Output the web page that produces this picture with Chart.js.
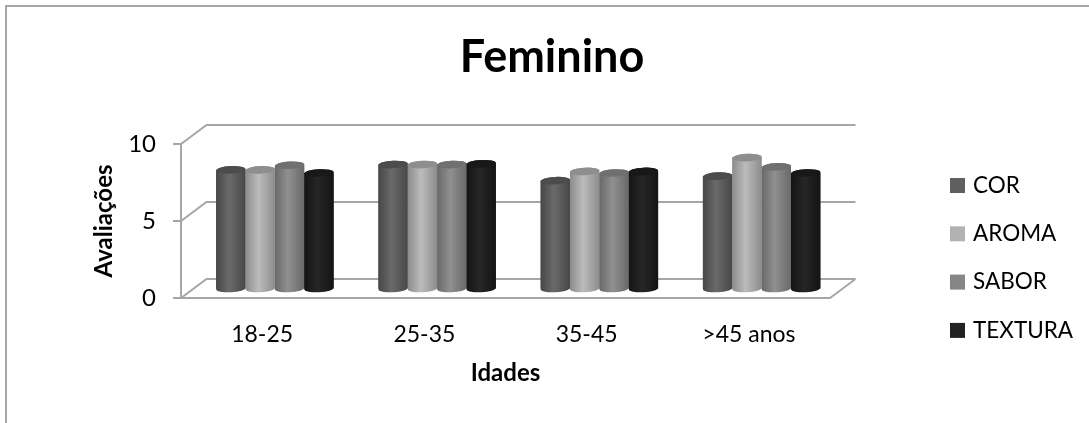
<!DOCTYPE html>
<html>
<head>
<meta charset="utf-8">
<style>
  html, body { margin: 0; padding: 0; background: #fff; }
  #wrap { width: 1089px; height: 423px; }
</style>
<script src="https://cdn.jsdelivr.net/npm/chart.js@4"></script>
</head>
<body>
<div id="wrap"><canvas id="chart" width="1089" height="423"></canvas></div>
<script>
const idades = ['18-25', '25-35', '35-45', '>45 anos'];
const cor = [7.7, 8.05, 7.0, 7.3];
const aroma = [7.7, 8.05, 7.6, 8.5];
const sabor = [8.0, 8.05, 7.5, 7.9];
const textura = [7.5, 8.1, 7.6, 7.5];
const yTicks = [0, 5, 10];

// cores: base (legenda), borda do cilindro, centro do cilindro, tampa
const estilos = {
  COR: ['#5f5f5f', '#474747', '#6a6a6a', '#4c4c4c'],
  AROMA: ['#b2b2b2', '#8c8c8c', '#bcbcbc', '#8e8e8e'],
  SABOR: ['#868686', '#696969', '#909090', '#707070'],
  TEXTURA: ['#222222', '#141414', '#262626', '#181818']
};

const linhaCor = '#a6a6a6';
const profundidade = { x: 25.5, y: -19 };

// paredes e chao em falsa perspectiva, a partir das escalas
const paredes = {
  id: 'paredes',
  beforeDatasetsDraw(chart) {
    const { ctx, scales: { x, y }, chartArea: a } = chart;
    const dx = profundidade.x, dy = profundidade.y;
    ctx.save();
    ctx.strokeStyle = linhaCor;
    ctx.lineWidth = 2;
    ctx.beginPath();
    // moldura externa
    ctx.moveTo(6, 423); ctx.lineTo(6, 6); ctx.lineTo(1089, 6);
    // eixo vertical
    ctx.moveTo(a.left, y.getPixelForValue(10));
    ctx.lineTo(a.left, y.getPixelForValue(0));
    yTicks.forEach(t => {
      const p = y.getPixelForValue(t);
      ctx.moveTo(a.left - 8, p);
      ctx.lineTo(a.left, p);
      ctx.lineTo(a.left + dx, p + dy);
      ctx.lineTo(a.right + dx, p + dy);
    });
    // chao
    const p0 = y.getPixelForValue(0);
    ctx.moveTo(a.left, p0);
    ctx.lineTo(a.right, p0);
    ctx.lineTo(a.right + dx, p0 + dy);
    ctx.stroke();
    ctx.restore();
    // barras ficam no meio da profundidade
    ctx.save();
    ctx.translate(dx / 2, dy / 2);
  },
  afterDatasetsDraw(chart) {
    const ctx = chart.ctx;
    chart.data.datasets.forEach((ds, i) => {
      const est = estilos[ds.label];
      chart.getDatasetMeta(i).data.forEach(bar => {
        const w = bar.width / 2, rot = -0.05, ry = 3.8;
        const g = ctx.createLinearGradient(bar.x - w, 0, bar.x + w, 0);
        g.addColorStop(0, est[1]);
        g.addColorStop(0.45, est[2]);
        g.addColorStop(1, est[1]);
        ctx.fillStyle = g;
        ctx.beginPath();
        ctx.ellipse(bar.x, bar.base, w, ry, rot, 0, Math.PI);
        ctx.ellipse(bar.x, bar.y, w, ry, rot, Math.PI, 0);
        ctx.closePath();
        ctx.fill();
        ctx.fillStyle = est[3];
        ctx.beginPath();
        ctx.ellipse(bar.x, bar.y, w, ry, rot, 0, Math.PI * 2);
        ctx.fill();
      });
    });
    ctx.restore();
  }
};

// legenda com espacamento maior que a altura da area do grafico
const legenda = {
  id: 'legenda',
  afterLayout(chart) {
    // titulo centrado na figura toda, nao so na area do grafico
    chart.titleBlock.left = 15;
    chart.titleBlock.right = 1089;
  },
  afterDraw(chart) {
    const ctx = chart.ctx;
    ctx.save();
    ctx.font = '22.5px Lato';
    ctx.textBaseline = 'middle';
    chart.data.datasets.forEach((ds, i) => {
      const yc = 185.5 + i * 48.3;
      ctx.fillStyle = ds.backgroundColor;
      ctx.fillRect(950, yc - 7.5, 15, 15);
      ctx.fillStyle = '#000';
      ctx.fillText(ds.label, 973, yc);
    });
    ctx.restore();
  }
};

const serie = (label, data) => ({
  label,
  data,
  backgroundColor: estilos[label][0],
  borderWidth: 0,
  clip: false,
  barPercentage: 1,
  categoryPercentage: 0.724
});

new Chart(document.getElementById('chart'), {
  type: 'bar',
  data: {
    labels: idades,
    datasets: [serie('COR', cor), serie('AROMA', aroma), serie('SABOR', sabor), serie('TEXTURA', textura)]
  },
  plugins: [paredes, legenda],
  options: {
    responsive: false,
    animation: false,
    layout: { padding: { left: 84, right: 259, top: 0, bottom: 31 } },
    plugins: {
      title: {
        display: true,
        text: 'Feminino',
        color: '#000',
        font: { family: 'Lato', size: 45, weight: 'bold' },
        padding: { top: 30, bottom: 60 }
      },
      legend: { display: false },
      tooltip: { enabled: false }
    },
    scales: {
      x: {
        afterFit(scale) { scale.height = 94; },
        grid: { display: false },
        border: { display: false },
        ticks: { color: '#000', font: { family: 'Lato', size: 23 }, padding: 15, maxRotation: 0 },
        title: { display: true, text: 'Idades', color: '#000', font: { family: 'Lato', size: 24, weight: 'bold' }, padding: { top: 10, bottom: 4 } }
      },
      y: {
        min: 0,
        max: 10,
        afterBuildTicks(scale) { scale.ticks = yTicks.map(value => ({ value })); },
        afterFit(scale) { scale.width = 97; },
        grid: { display: false },
        border: { display: false },
        ticks: { color: '#000', font: { family: 'Lato', size: 24 }, padding: 17 },
        title: { display: true, text: 'Avaliações', color: '#000', font: { family: 'Lato', size: 24, weight: 'bold' }, padding: { top: 6, bottom: 2 } }
      }
    }
  }
});
</script>
</body>
</html>
